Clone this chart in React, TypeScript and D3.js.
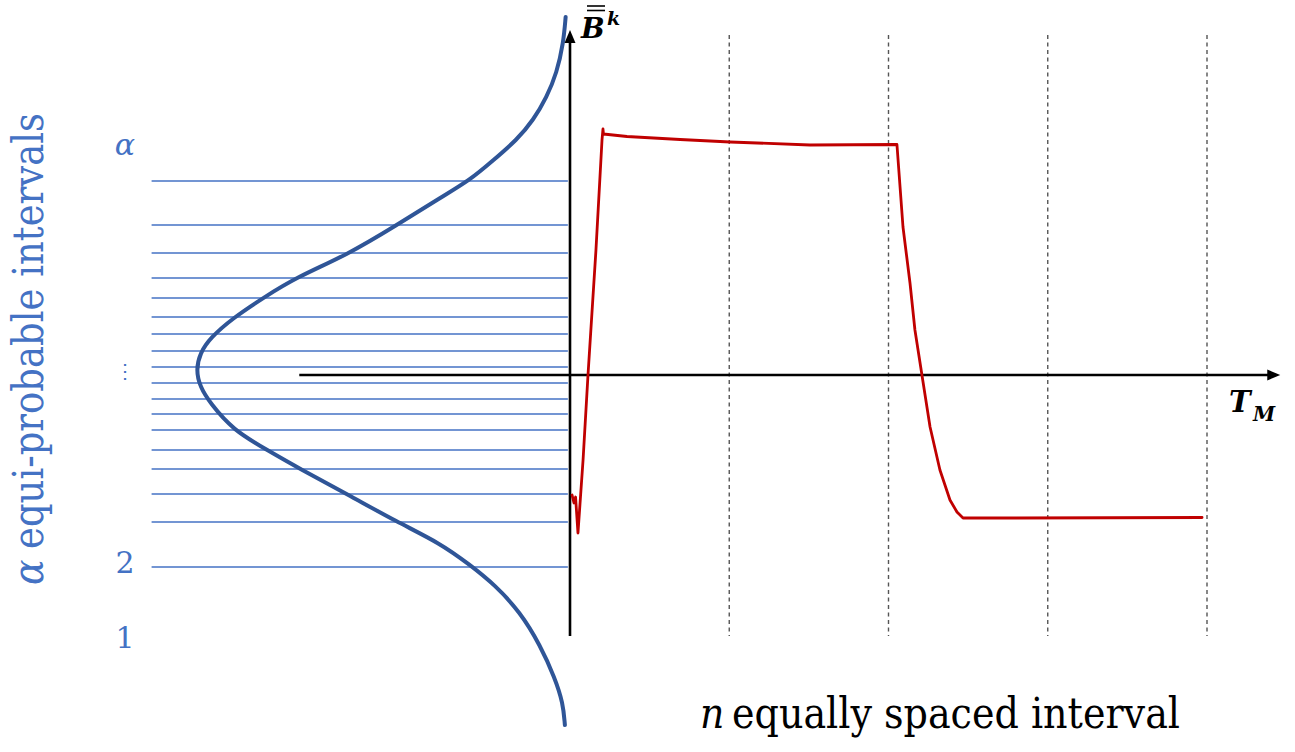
import React from 'react'
import * as d3 from 'd3'

const W = 1295
const H = 752

// boundaries of the n equally spaced intervals on T_M
const intervalBounds = [1, 2, 3, 4]

// red trajectory of B̿^k : time (interval units) and value
const trajT = [0.013, 0.025, 0.035, 0.05, 0.082, 0.113, 0.163, 0.201, 0.207, 0.21, 0.358, 0.691, 1.005, 1.507, 2.053, 2.091, 2.135, 2.166, 2.21, 2.261, 2.323, 2.386, 2.43, 2.468, 2.763, 3.969]
const trajB = [-1.2, -1.28, -1.22, -1.58, -0.85, 0, 1.25, 2.35, 2.46, 2.41, 2.385, 2.355, 2.33, 2.3, 2.305, 1.48, 0.92, 0.45, 0, -0.52, -0.95, -1.25, -1.37, -1.43, -1.43, -1.425]

// bell curve (density of B), read along the value axis
const bellB = [3.58, 3.32, 3.02, 2.78, 2.55, 2.35, 2.15, 1.95, 1.77, 1.5, 1.2, 0.98, 0.77, 0.57, 0.37, 0.22, 0.05, -0.12, -0.28, -0.55, -0.75, -0.94, -1.19, -1.47, -1.68, -1.9, -2.1, -2.37, -2.7, -3.03, -3.28, -3.5]
const bellD = [0.001, 0.007, 0.025, 0.052, 0.088, 0.133, 0.196, 0.259, 0.341, 0.457, 0.592, 0.727, 0.819, 0.9, 0.962, 0.989, 1.0, 0.989, 0.962, 0.9, 0.808, 0.719, 0.592, 0.457, 0.341, 0.259, 0.192, 0.124, 0.070, 0.03, 0.008, 0.003]

// equi-probable interval boundaries
const quantiles = [1.94, 1.5, 1.22, 0.97, 0.77, 0.58, 0.41, 0.24, 0.08, -0.08, -0.24, -0.39, -0.55, -0.75, -0.94, -1.19, -1.47, -1.92]

// interval labels on the left
const intervalLabels = ['α', '⋮', '2', '1']
const intervalLabelB = [2.2, 0.03, -1.98, -2.73]

const BLUE_LIGHT = '#4472C4'
const BLUE_DARK = '#2F5597'
const RED = '#C00000'
const SERIF = 'DejaVu Serif, Liberation Serif, serif'
const SERIF_NARROW = 'DejaVu Serif Condensed, DejaVu Serif, serif'

export default function App() {
    const x = d3.scaleLinear().domain([0, 4]).range([570, 1207])
    const y = d3.scaleLinear().domain([-2.61, 3.4]).range([636, 35])
    const dens = d3.scaleLinear().domain([0, 1]).range([566, 196])

    const traj = trajT.map((t, i) => ({ t, b: trajB[i] }))
    const bell = bellB.map((b, i) => ({ b, d: bellD[i] }))

    const trajLine = d3.line<{ t: number, b: number }>()
        .x((d) => x(d.t))
        .y((d) => y(d.b))
        .curve(d3.curveLinear)

    const bellLine = d3.line<{ b: number, d: number }>()
        .x((d) => dens(d.d))
        .y((d) => y(d.b))
        .curve(d3.curveBasis)

    const x0 = x(0)
    const y0 = y(0)
    const hStart = x(-1.7)
    const hEnd = x(4.46)
    const vTop = y(3.45)
    const vBottom = y(-2.61)

    return (
        <svg width={W} height={H} style={{ position: 'absolute', left: 0, top: 0, background: '#fff' }}>
            {/* equi-probable interval lines */}
            {quantiles.map((q, i) => (
                <line key={'q' + i} x1={dens(1.12)} x2={dens(-0.005)} y1={y(q)} y2={y(q)}
                    stroke={BLUE_LIGHT} strokeWidth={1.4} />
            ))}

            {/* dashed interval bounds */}
            {intervalBounds.map((t) => (
                <line key={'t' + t} x1={x(t)} x2={x(t)} y1={y(3.4)} y2={vBottom}
                    stroke="#555" strokeWidth={1.4} strokeDasharray="4,3.5" />
            ))}

            {/* bell curve */}
            <path d={bellLine(bell) || ''} fill="none" stroke={BLUE_DARK} strokeWidth={4} strokeLinecap="round" />

            {/* axes */}
            <line x1={hStart} x2={hEnd - 10} y1={y0} y2={y0} stroke="#000" strokeWidth={2.6} />
            <path d={`M${hEnd},${y0} L${hEnd - 13},${y0 - 5.5} L${hEnd - 13},${y0 + 5.5} Z`} fill="#000" />
            <line x1={x0} x2={x0} y1={vBottom} y2={vTop + 10} stroke="#000" strokeWidth={2.6} />
            <path d={`M${x0},${vTop} L${x0 - 5.5},${vTop + 13} L${x0 + 5.5},${vTop + 13} Z`} fill="#000" />

            {/* trajectory */}
            <path d={trajLine(traj) || ''} fill="none" stroke={RED} strokeWidth={2.8} strokeLinejoin="round" strokeLinecap="round" />

            {/* axis titles */}
            <g fontFamily={SERIF} fontWeight="bold" fontStyle="italic">
                <text x={581} y={38} fontSize={28}>B</text>
                <line x1={587} x2={605} y1={6} y2={6} stroke="#000" strokeWidth={1.6} />
                <line x1={587} x2={605} y1={10.5} y2={10.5} stroke="#000" strokeWidth={1.6} />
                <text x={607} y={25} fontSize={19}>k</text>
                <text x={1229} y={412} fontSize={29}>T</text>
                <text x={1253} y={421} fontSize={20}>M</text>
            </g>

            {/* interval labels */}
            {intervalLabels.map((lab, i) => (
                <text key={'l' + i} x={125} y={y(intervalLabelB[i])} textAnchor="middle"
                    fontFamily={SERIF}
                    fontStyle={lab === 'α' ? 'italic' : 'normal'}
                    fontSize={lab === '⋮' ? 20 : 30} fill={BLUE_LIGHT}
                    dominantBaseline={lab === '⋮' ? 'middle' : 'auto'}>
                    {lab}
                </text>
            ))}

            {/* rotated title on the left */}
            <g transform="translate(43,585) rotate(-90)" fontFamily={SERIF_NARROW} fontSize={42} fill={BLUE_LIGHT}>
                <text x={0} y={0} fontStyle="italic">α</text>
                <text x={36} y={0} textLength={436} lengthAdjust="spacingAndGlyphs">equi-probable intervals</text>
            </g>

            {/* bottom title */}
            <text x={700} y={728} fontFamily={SERIF_NARROW} fontSize={42} fontStyle="italic" fill="#000">n</text>
            <text x={732} y={728} fontFamily={SERIF_NARROW} fontSize={42} fill="#000"
                textLength={448} lengthAdjust="spacingAndGlyphs">equally spaced interval</text>
        </svg>
    )
}
